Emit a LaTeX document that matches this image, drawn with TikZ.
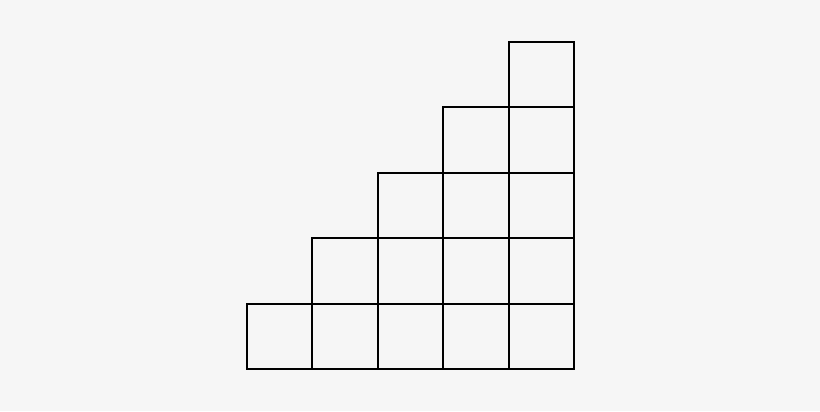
\documentclass[tikz,border=0pt]{standalone}
\usepackage{tikz}
\usepackage{xcolor}

\begin{document}
\begin{tikzpicture}[x=0.75pt,y=0.75pt,yscale=-1,xscale=1]
%Background
\fill [color={rgb, 255:red, 246; green, 246; blue, 246 }] (0,0) rectangle (820,411);
\useasboundingbox (0,0) rectangle (820,411);

%Shape: Staircase of squares
\foreach \col in {1,...,5} {
  \foreach \row in {1,...,\col} {
    \draw [line width=1.5pt] ({247+(\col-1)*65.4},{369-(\row-1)*65.4}) rectangle ({247+\col*65.4},{369-\row*65.4}) ;
  }
}
\end{tikzpicture}
\end{document}
